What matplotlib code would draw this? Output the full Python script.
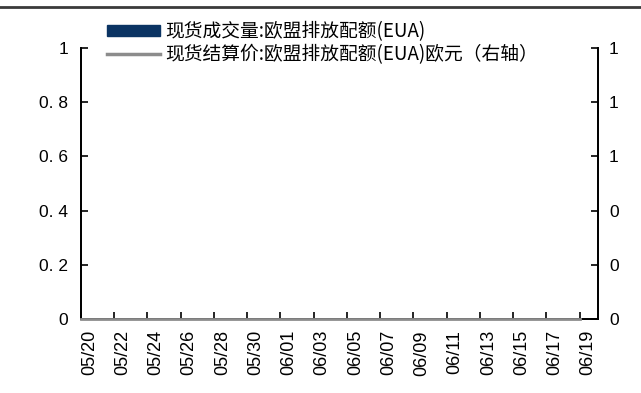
import datetime
import matplotlib
matplotlib.use("Agg")
import matplotlib.pyplot as plt
from matplotlib.patches import Patch
from matplotlib.lines import Line2D
from matplotlib.ticker import FuncFormatter

plt.rcParams['font.family'] = ['Noto Sans CJK SC', 'DejaVu Sans']

# 日度数据 05/20 - 06/19
start = datetime.date(2024, 5, 20)
dates = [start + datetime.timedelta(days=i) for i in range(31)]
date_labels = [d.strftime("%m/%d") for d in dates]
volume = [0] * 31   # 现货成交量
price = [0] * 31    # 现货结算价 (欧元)

navy = "#0b3463"
gray = "#8c8c8c"

fig = plt.figure(figsize=(6.41, 3.93), dpi=100)
ax = fig.add_axes([81 / 641, 1 - 319 / 393, 517 / 641, 271 / 393])
ax2 = ax.twinx()

x = list(range(len(dates)))
ax.bar(x, volume, color=navy, width=0.6)
ax2.plot(x, price, color=gray, lw=2, zorder=3, clip_on=False)

ax.set_xlim(0, 31.1)
ax.set_ylim(0, 1)
ax2.set_ylim(0, 1)
ax.set_yticks([0, 0.2, 0.4, 0.6, 0.8, 1])
ax2.set_yticks([0, 0.2, 0.4, 0.6, 0.8, 1])
ax.yaxis.set_major_formatter(FuncFormatter(lambda v, p: "0" if v == 0 else ("1" if v == 1 else "%.1f" % v).replace(".", ". ")))
ax2.yaxis.set_major_formatter(FuncFormatter(lambda v, p: "%.0f" % v))

ax.set_xticks(x[::2])
ax.set_xticklabels(date_labels[::2], rotation=90, ha="left", family="Liberation Sans", fontsize=13)

for a in (ax, ax2):
    a.spines["top"].set_visible(False)
    for s in ("left", "right", "bottom"):
        a.spines[s].set_linewidth(1.3)
        a.spines[s].set_color("black")
ax.tick_params(axis="x", direction="in", length=5, width=1.2, pad=8)
ax.tick_params(axis="y", direction="in", length=5, width=1.2, pad=9.4, labelsize=12.5)
ax2.tick_params(axis="y", direction="in", length=5, width=1.2, pad=8, labelsize=12.5)
for lab in ax.get_yticklabels() + ax2.get_yticklabels():
    lab.set_family("Liberation Sans")

handles = [Patch(facecolor=navy, edgecolor=navy),
           Line2D([0], [0], color=gray, lw=2.5)]
labels = ["现货成交量:欧盟排放配额(EUA)", "现货结算价:欧盟排放配额(EUA)欧元（右轴）"]
fig.legend(handles, labels, loc="upper left", bbox_to_anchor=(107 / 641, 1 - 21 / 393),
           frameon=False, fontsize=13.5, handlelength=2.8, handleheight=0.55,
           handletextpad=0.3, labelspacing=0.12, borderaxespad=0, borderpad=0)

fig.add_artist(Line2D([0, 1], [1 - 7 / 393, 1 - 7 / 393], color="#3a3a3a", lw=2, transform=fig.transFigure))

fig.savefig("out.png", dpi=100)
